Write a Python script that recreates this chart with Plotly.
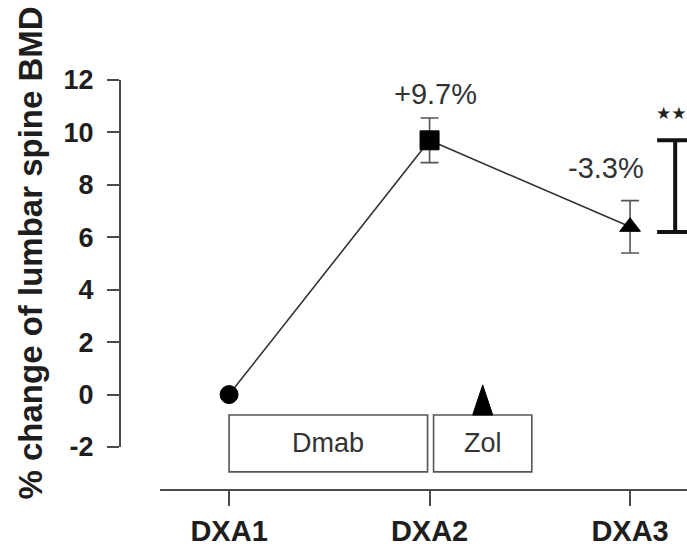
import plotly.graph_objects as go

# Visits and mean % change of lumbar spine BMD
visits = ["DXA1", "DXA2", "DXA3"]
visit_pos = [0, 1, 2]
bmd_change = [0.0, 9.7, 6.4]
err_up = [0.0, 0.85, 1.0]
err_down = [0.0, 0.85, 1.0]
markers = ["circle", "square", "triangle-up"]

# Percent change labels between visits
change_labels = ["+9.7%", "-3.3%"]
change_label_x = [1.03, 1.88]
change_label_y = [11.45, 8.65]

# Treatment periods drawn under the curve
treat_names = ["Dmab", "Zol"]
treat_start = [0.0, 1.02]
treat_end = [0.99, 1.51]
treat_bottom = -2.95
treat_top = -0.78

# Significance bracket for the DXA2 -> DXA3 drop
bracket_y = [6.2, 9.7]
sig_text = "★★★"

y_ticks = [-2, 0, 2, 4, 6, 8, 10, 12]

FONT = "Liberation Sans"
INK = "#1e1e1e"
AXIS = "#4a4a4a"
MARK = "#000000"
Y_RANGE = [-3.64, 14.29]

fig = go.Figure()

# SEM error bars (drawn first so the markers sit on top)
fig.add_trace(go.Scatter(
    x=visit_pos, y=bmd_change, mode="markers",
    marker=dict(size=1, opacity=0),
    error_y=dict(type="data", symmetric=False, array=err_up,
                 arrayminus=err_down, color="#555555", thickness=1.6, width=9),
    showlegend=False, hoverinfo="skip",
))

# connecting line
fig.add_trace(go.Scatter(
    x=visit_pos, y=bmd_change, mode="lines",
    line=dict(color="#333333", width=1.6),
    showlegend=False, hoverinfo="skip",
))

# visit markers
fig.add_trace(go.Scatter(
    x=visit_pos, y=bmd_change, mode="markers",
    marker=dict(symbol=markers, size=[18, 19, 18], color=MARK, opacity=1,
                line=dict(width=1, color=MARK)),
    showlegend=False, hoverinfo="skip",
))

# treatment boxes
for name, s, e in zip(treat_names, treat_start, treat_end):
    fig.add_shape(type="rect", xref="x", yref="y", x0=s, x1=e,
                  y0=treat_bottom, y1=treat_top,
                  line=dict(color="#555555", width=1.6), fillcolor="white",
                  layer="below")
    fig.add_annotation(x=(s + e) / 2, y=(treat_bottom + treat_top) / 2,
                       xref="x", yref="y", text=name, showarrow=False,
                       font=dict(family=FONT, size=27, color="#333333"))

# Zol infusion marker sitting on the Zol box
zc = (treat_start[1] + treat_end[1]) / 2
fig.add_trace(go.Scatter(
    x=[zc - 0.05, zc, zc + 0.05, zc - 0.05],
    y=[treat_top, 0.37, treat_top, treat_top],
    mode="lines", fill="toself", fillcolor=MARK,
    line=dict(color=MARK, width=1), showlegend=False, hoverinfo="skip",
))

# significance bracket
bx = 2.225
cap = 0.09
fig.add_trace(go.Scatter(
    x=[bx - cap, bx + cap, None, bx, bx, None, bx - cap, bx + cap],
    y=[bracket_y[1], bracket_y[1], None, bracket_y[1], bracket_y[0], None,
       bracket_y[0], bracket_y[0]],
    mode="lines", line=dict(color="#111111", width=4),
    showlegend=False, hoverinfo="skip",
))
fig.add_annotation(x=2.12, y=10.75, xref="x", yref="y", text=sig_text,
                   showarrow=False, xanchor="left",
                   font=dict(family="DejaVu Sans", size=17, color="#222222"))

for t, x, y in zip(change_labels, change_label_x, change_label_y):
    fig.add_annotation(x=x, y=y, xref="x", yref="y", text=t, showarrow=False,
                       font=dict(family=FONT, size=29, color="#333333"))

# empty trace so the tick-only y axis gets its own subplot
fig.add_trace(go.Scatter(x=[None], y=[None], yaxis="y2", showlegend=False,
                         hoverinfo="skip"))

# x axis baseline starts right of the y axis
fig.add_shape(type="line", xref="paper", yref="paper", x0=0.069, x1=1.0,
              y0=0, y1=0, line=dict(color=AXIS, width=2))

# y-axis title
fig.add_annotation(xref="paper", yref="paper", x=-0.16, y=0.504,
                   xanchor="center", yanchor="middle",
                   text="<b>% change of lumbar spine BMD</b>", textangle=-90,
                   showarrow=False,
                   font=dict(family=FONT, size=33, color=INK))

span = Y_RANGE[1] - Y_RANGE[0]
d0 = (y_ticks[0] - Y_RANGE[0]) / span
d1 = (y_ticks[-1] - Y_RANGE[0]) / span

fig.update_layout(
    width=687, height=549,
    margin=dict(l=121, r=0, t=20, b=59),
    paper_bgcolor="white", plot_bgcolor="rgba(0,0,0,0)",
    xaxis=dict(range=[-0.539, 2.284], tickvals=visit_pos,
               ticktext=[f"<b>{v}</b>" for v in visits],
               ticks="outside", ticklen=15, tickwidth=2, tickcolor=AXIS,
               showline=False, showgrid=False, zeroline=False,
               tickfont=dict(family=FONT, size=29, color=INK)),
    yaxis=dict(range=Y_RANGE, showticklabels=False, ticks="",
               showline=False, showgrid=False, zeroline=False),
    yaxis2=dict(domain=[d0, d1], anchor="x", range=[y_ticks[0], y_ticks[-1]],
                tickvals=y_ticks, ticktext=[f"<b>{v}</b>" for v in y_ticks],
                ticks="outside", ticklen=12, tickwidth=2, tickcolor=AXIS,
                showline=True, linecolor=AXIS, linewidth=2,
                ticklabelstandoff=8,
                showgrid=False, zeroline=False,
                tickfont=dict(family=FONT, size=27, color=INK)),
)

fig.write_html("out.html")
